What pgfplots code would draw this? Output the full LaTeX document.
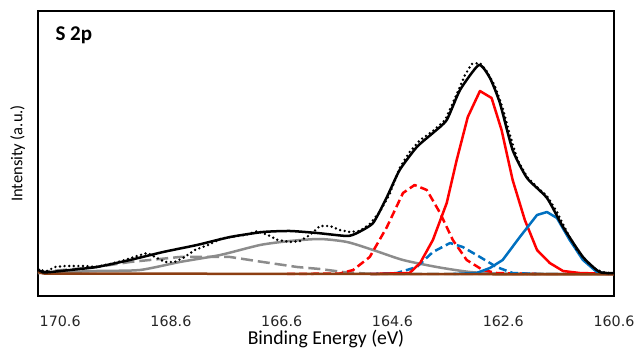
\documentclass[border=0pt]{standalone}
\usepackage{fontspec}
\usepackage{pgfplots}
\pgfplotsset{compat=1.18}
\newfontfamily\calibri{Carlito}
\newfontfamily\dejavu{DejaVu Sans}
\definecolor{xblue}{RGB}{0,112,192}
\definecolor{xbrown}{RGB}{140,62,18}
\definecolor{xgray}{RGB}{140,140,140}
\definecolor{xred}{RGB}{255,0,0}

\pgfplotstableread{
x y
171.00 24
170.96 24
169.94 29
169.34 34
168.44 39
167.53 39
166.94 34
166.32 29
165.91 27
165.49 24
165.10 22.5
164.50 22
160.60 22
}\graydash

\pgfplotstableread{
x y
171.00 23
170.96 23
169.94 25
169.16 26
168.44 34
167.71 41
166.99 51
166.45 55
165.91 57
165.42 54
164.95 46
164.41 36
163.80 29
163.20 24
162.61 22.5
160.60 22
}\graysolid

\pgfplotstableread{
x y
166.50 22
165.55 22.5
165.31 26
165.01 39
164.70 69
164.41 103
164.20 111
163.98 106
163.74 83
163.51 56
163.26 36
162.97 26
162.72 23
162.00 22
}\reddash

\pgfplotstableread{
x y
165.00 22
164.52 23
164.16 29
163.87 44
163.56 53
163.33 49
163.02 39
162.72 29
162.43 23
162.00 22
}\bluedash

\pgfplotstableread{
x y
165.00 22
164.29 23
164.10 33
163.87 56
163.62 93
163.44 136
163.24 179
163.02 205
162.81 198
162.63 166
162.43 116
162.21 76
161.99 46
161.76 33
161.52 25
161.22 23
160.60 22
}\redsolid

\pgfplotstableread{
x y
163.50 22
163.08 23
162.84 28
162.61 36
162.30 59
161.99 81
161.81 84
161.63 78
161.40 56
161.16 36
160.91 24
160.68 22
160.60 22
}\bluesolid

\pgfplotstableread{
x y
171.00 24
170.90 22.5
165.00 22
160.60 21.5
}\baseline

\pgfplotstableread{
x y
171.00 27
170.90 23.5
170.42 26
169.94 29
169.34 36
168.74 44
168.13 51
167.53 59
166.94 64
166.45 65
165.96 63
165.42 60
165.24 63
164.95 73
164.70 99
164.47 126
164.16 149
163.87 163
163.62 176
163.38 206
163.04 231
162.84 218
162.66 193
162.43 146
162.17 118
161.81 98
161.52 69
161.16 39
160.86 24
160.60 23
}\envelope

\pgfplotstableread{
x y
171.00 26
170.84 25
170.69 29
170.51 30
170.33 30
170.15 30
169.97 29
169.70 32
169.43 36
169.21 40
169.03 43
168.85 38
168.71 34
168.53 34
168.35 39
168.17 46
167.93 51
167.71 57
167.53 59
167.26 61
167.03 65
166.85 61
166.67 56
166.45 54
166.27 55
166.09 61
165.91 70
165.73 70
165.55 66
165.37 64
165.19 65
165.01 72
164.83 84
164.65 102
164.47 128
164.29 144
164.10 156
163.87 165
163.65 176
163.47 198
163.29 221
163.17 232
163.02 233
162.90 225
162.75 210
162.61 188
162.48 161
162.34 136
162.17 119
161.99 109
161.81 100
161.63 84
161.45 64
161.27 46
161.09 34
160.91 26
160.73 23
160.60 23
}\raw

\begin{document}
\begin{tikzpicture}
\useasboundingbox (0,0) rectangle (635bp,349bp);
\begin{axis}[
  at={(38bp,53bp)}, anchor=south west,
  scale only axis, width=576bp, height=285bp,
  x dir=reverse, xmin=160.6, xmax=171, ymin=0, ymax=285,
  xtick={160.6,162.6,164.6,166.6,168.6,170.6},
  xticklabels={160.6,162.6,164.6,166.6,168.6,170.6},
  ytick=\empty,
  major tick length=0pt,
  axis line style={line width=1.5bp},
  xticklabel style={font=\dejavu\fontsize{14.3bp}{17bp}\selectfont, anchor=base, yshift=-30bp, text=black!85},
  xlabel={Binding Energy (eV)},
  ylabel={Intensity (a.u.)},
  xlabel style={font=\calibri\fontsize{19.7bp}{24bp}\selectfont, at={(axis description cs:0.5,-0.16842)}, anchor=base},
  ylabel style={font=\calibri\fontsize{16.5bp}{20bp}\selectfont, at={(axis description cs:-0.0269,0.5)}, anchor=base},
  every axis plot/.append style={no marks, line join=round},
]
\addplot[xgray, line width=2.5bp, dash pattern=on 12bp off 5bp] table {\graydash};
\addplot[xgray, line width=2.5bp, smooth, tension=0.4] table {\graysolid};
\addplot[xred, line width=2.5bp, dash pattern=on 8bp off 4bp] table {\reddash};
\addplot[xblue, line width=2.5bp, dash pattern=on 8bp off 4bp] table {\bluedash};
\addplot[xred, line width=2.5bp] table {\redsolid};
\addplot[xblue, line width=2.5bp] table {\bluesolid};
\addplot[xbrown, line width=2.5bp] table {\baseline};
\addplot[black, line width=2.5bp, smooth, tension=0.35] table {\envelope};
\addplot[black, line width=2.7bp, line cap=round, dash pattern=on 0pt off 4.6bp] table {\raw};
\node[anchor=base west, font=\calibri\bfseries\fontsize{21bp}{25bp}\selectfont] at (axis description cs:0.0243,0.8982) {S 2p};
\end{axis}
\end{tikzpicture}
\end{document}
